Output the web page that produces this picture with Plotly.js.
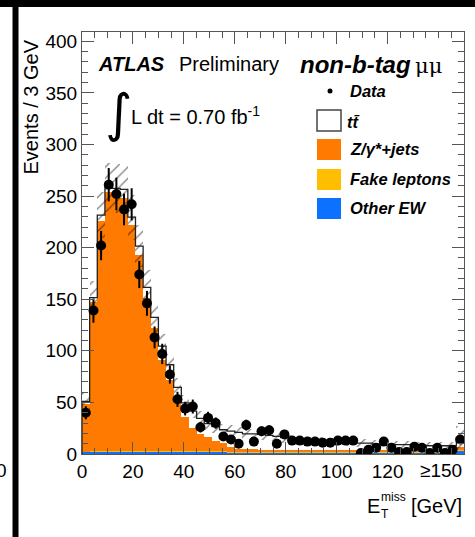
<!DOCTYPE html>
<html>
<head>
<meta charset="utf-8">
<script src="https://cdn.plot.ly/plotly-3.0.1.min.js"></script>
<style>html,body{margin:0;padding:0;background:#fff;}#chart{width:475px;height:537px;}</style>
</head>
<body>
<div id="chart"></div>
<script>
// ---- data (E_T^miss, 3 GeV bins from 0 to 150, last bin = overflow) ----
const binWidth = 3;
const dataCounts = [40,139,202,261,252,237,242,174,146,113,97,77,53,44,46,26,35,30,17,14,
                    10,28,12,22,23,10,19,13,13,12,12,11,11,13,13,13,1,4,6,12,
                    6,2,2,7,6,1,6,1,4,14];
const ttbar   = [3,4,6,5,8,8,8,9,10,10,13,15,13,14,16,15,13,14,13,15,
                 16,15,15,15,14,13,12,11,10,9,9,9,8,8,8,7,7,7,6,6,
                 6,6,6,6,5,5,5,5,5,9];
const zjets   = [46,145,223,251,247,246,219,190,149,120,89,69,49,33,23,17,14,10,8,5,
                 3,2.5,2.5,2,2,2,2,1.5,1.5,1.5,1.5,1.5,1.5,1.5,1.5,1.5,1.5,1.5,1.5,1.5,
                 1,1,1,1,1,1,1,1,1,3];
const fakeLep = [0.5,1,1,1,1,1,1,1,1,1,1,1,1,1,1,1,1,1,1,1,
                 0.8,0.8,0.8,0.8,0.8,0.8,0.8,0.8,0.8,0.8,0.8,0.8,0.8,0.8,0.8,0.8,0.8,0.8,0.8,0.8,
                 0.8,0.8,0.8,0.8,0.8,0.8,0.8,0.8,0.8,1];
const otherEW = [1.5,1.5,1.5,1.5,1.5,1.5,1.5,1.5,1.5,1.5,1.5,1.5,1.5,1.5,1.5,1.5,1.5,1.5,1.5,1.2,
                 1.2,1.2,1.2,1.2,1.2,1.2,1.2,1.2,1.2,1.2,1.2,1.2,1.2,1.2,1.2,1.2,1.2,1.2,1.2,1.2,
                 1.2,1.2,1.2,1.2,1.2,1.2,1.2,1.2,1.2,2.5];
const mcUncert = [8,16,22,24,24,24,22,20,17,14,12,10,9,8,7,7,6,6,6,6,
                  5,5,5,5,5,5,5,4,4,4,4,4,4,4,4,4,4,4,4,4,
                  4,4,4,4,4,4,4,4,4,12];
const xTickVals = [0,20,40,60,80,100,120];
const xTickText = ['0','20','40','60','80','100','120'];
const yTickVals = [0,50,100,150,200,250,300,350,400];
const overflowLabel = '\u2265150';

// ---- derived ----
const centers = dataCounts.map((_, i) => binWidth * (i + 0.5));
const edges = dataCounts.map((_, i) => binWidth * i).concat([binWidth * dataCounts.length]);
const cumEW = otherEW.slice();
const cumFake = cumEW.map((v, i) => v + fakeLep[i]);
const cumZ = cumFake.map((v, i) => v + zjets[i]);
const total = cumZ.map((v, i) => v + ttbar[i]);

const COL_Z = '#ff7a00', COL_FAKE = '#ffbf00', COL_EW = '#0a72ff';
const FONT = 'Liberation Sans, Arial, Helvetica, sans-serif';

// plot area in pixels: x 82..464, y 32..454
const L = 82, R = 464, T = 32, B = 454;
const X = px => (px - L) / (R - L);
const Y = py => (B - py) / (B - T);

function bar(y, color, name) {
  return {type: 'bar', x: centers, y: y, width: binWidth, name: name,
    marker: {color: color, line: {width: 0}}, hoverinfo: 'skip', showlegend: false};
}

const traces = [
  bar(total, '#ffffff', 'ttbar'),
  bar(cumZ, COL_Z, 'Z/gamma*+jets'),
  bar(cumFake, COL_FAKE, 'Fake leptons'),
  bar(cumEW, COL_EW, 'Other EW'),
  {type: 'bar', x: centers, y: mcUncert.map(e => 2 * e), base: total.map((t, i) => t - mcUncert[i]),
   width: binWidth, showlegend: false, hoverinfo: 'skip',
   marker: {color: 'rgba(0,0,0,0)', line: {width: 0},
     pattern: {shape: '/', size: 8, solidity: 0.16, fgcolor: '#000000', bgcolor: 'rgba(0,0,0,0)', fillmode: 'overlay'}}},
  {type: 'scatter', mode: 'lines', x: [0].concat(edges), y: [0].concat(total, [total[total.length - 1]]),
   line: {shape: 'hv', color: '#222222', width: 1.3}, showlegend: false, hoverinfo: 'skip'},
  {type: 'scatter', mode: 'markers', x: centers, y: dataCounts, name: 'Data',
   marker: {color: '#000', size: 10},
   error_y: {type: 'data', array: dataCounts.map(v => Math.sqrt(v)), color: '#000', thickness: 2, width: 0},
   showlegend: false, hoverinfo: 'skip'}
];

const axisCommon = {showline: true, linecolor: '#555', linewidth: 1, mirror: 'allticks',
  ticks: 'inside', ticklen: 12, tickwidth: 1, tickcolor: '#555', showgrid: false, zeroline: false,
  tickfont: {family: FONT, size: 19, color: '#000'}};

const ann = [];
function text(t, px, py, size, opts) {
  ann.push(Object.assign({text: t, xref: 'paper', yref: 'paper', x: X(px), y: Y(py),
    xanchor: 'left', yanchor: 'middle', showarrow: false,
    font: {family: FONT, size: size, color: '#000'}}, opts || {}));
}
// header texts
text('<b><i>ATLAS</i></b>', 96, 64, 20);
text('Preliminary', 177, 64, 20);
text('<b><i>non-b-tag</i></b>', 298, 64, 24);
text('\u03bc\u03bc', 413, 66, 22, {font: {family: 'DejaVu Serif, serif', size: 21, color: '#000'}});
text('\u222b', 103, 113, 54, {font: {family: 'DejaVu Sans, sans-serif', size: 52, color: '#000'}});
text('L dt = 0.70 fb<sup>-1</sup>', 129, 116, 20);
// legend labels
text('<b><i>Data</i></b>', 348, 91, 16.5);
text('<b><i>tt\u0304</i></b>', 345, 122, 16.5);
text('<b><i>Z/\u03b3*+jets</i></b>', 348, 149, 16.5);
text('<b><i>Fake leptons</i></b>', 348, 179, 16.5);
text('<b><i>Other EW</i></b>', 348, 208, 16.5);
// axis titles
text('Events / 3 GeV', 30, 38, 20, {xanchor: 'center', yanchor: 'top', textangle: -90});
text('E', 365, 506, 20);
text('T', 379, 514, 12);
text('miss', 379, 497, 12);
text('[GeV]', 464, 506, 20, {xanchor: 'right'});
// overflow tick label
ann.push({text: overflowLabel, xref: 'x', yref: 'paper', x: 150, y: Y(470), xanchor: 'right', yanchor: 'middle',
  showarrow: false, font: {family: FONT, size: 19, color: '#000'}});
// partial label from neighbouring panel (cut by the page edge, as in the original)
text('0', -6, 470, 19);

const shapes = [
  // black frame pieces of the original page
  {type: 'rect', xref: 'paper', yref: 'paper', x0: X(-5), x1: X(480), y0: Y(7), y1: Y(-5), fillcolor: '#000', line: {width: 0}, layer: 'above'},
  {type: 'rect', xref: 'paper', yref: 'paper', x0: X(12.5), x1: X(18.5), y0: Y(545), y1: Y(-5), fillcolor: '#000', line: {width: 0}, layer: 'above'},
  // legend swatches
  {type: 'circle', xref: 'paper', yref: 'paper', x0: X(327.5), x1: X(332.5), y0: Y(93.5), y1: Y(88.5), fillcolor: '#000', line: {width: 0}},
  {type: 'rect', xref: 'paper', yref: 'paper', x0: X(317), x1: X(341), y0: Y(131), y1: Y(110), fillcolor: '#fff', line: {color: '#444', width: 1.5}},
  {type: 'rect', xref: 'paper', yref: 'paper', x0: X(317), x1: X(341), y0: Y(160), y1: Y(139), fillcolor: COL_Z, line: {width: 0}},
  {type: 'rect', xref: 'paper', yref: 'paper', x0: X(317), x1: X(341), y0: Y(190), y1: Y(169), fillcolor: COL_FAKE, line: {width: 0}},
  {type: 'rect', xref: 'paper', yref: 'paper', x0: X(317), x1: X(341), y0: Y(219), y1: Y(198), fillcolor: COL_EW, line: {width: 0}}
];

const layout = {
  width: 475, height: 537,
  margin: {l: L, r: 475 - R, t: T, b: 537 - B, pad: 0},
  paper_bgcolor: '#fff', plot_bgcolor: '#fff',
  barmode: 'overlay', bargap: 0, showlegend: false,
  xaxis: Object.assign({}, axisCommon, {range: [0, 150], tickmode: 'array', tickvals: xTickVals, ticktext: xTickText,
    minor: {tickmode: 'linear', tick0: 0, dtick: 5, ticks: 'inside', ticklen: 6, tickcolor: '#555', tickwidth: 1}}),
  yaxis: Object.assign({}, axisCommon, {range: [0, 409], tickmode: 'array', tickvals: yTickVals,
    minor: {tickmode: 'linear', tick0: 0, dtick: 10, ticks: 'inside', ticklen: 6, tickcolor: '#555', tickwidth: 1}}),
  annotations: ann,
  shapes: shapes
};

Plotly.newPlot('chart', traces, layout, {displayModeBar: false, staticPlot: true});
</script>
</body>
</html>
